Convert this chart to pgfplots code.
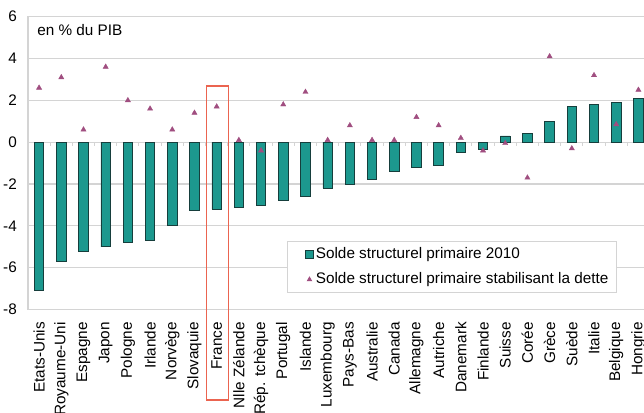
\documentclass[border=0pt]{standalone}
\usepackage{pgfplots}
\pgfplotsset{compat=1.18}
\usepackage{fontspec}
\setmainfont{Liberation Sans}
\definecolor{barteal}{RGB}{28,152,142}
\definecolor{baredge}{RGB}{22,62,60}
\definecolor{trimauve}{RGB}{160,78,128}
\definecolor{rectred}{RGB}{235,100,80}
\definecolor{gridgray}{RGB}{212,212,212}
\pgfplotstableread{
idx bar tri
0 -7.1 2.6
1 -5.7 3.1
2 -5.2 0.6
3 -5.0 3.6
4 -4.8 2.0
5 -4.7 1.6
6 -4.0 0.6
7 -3.25 1.4
8 -3.2 1.7
9 -3.1 0.1
10 -3.0 -0.4
11 -2.8 1.8
12 -2.6 2.4
13 -2.2 0.1
14 -2.0 0.8
15 -1.8 0.1
16 -1.4 0.1
17 -1.2 1.2
18 -1.1 0.8
19 -0.5 0.2
20 -0.35 -0.4
21 0.3 -0.05
22 0.4 -1.7
23 1.0 4.1
24 1.7 -0.3
25 1.8 3.2
26 1.9 0.85
27 2.1 2.5
}\datatable
\begin{document}
\begin{tikzpicture}[font=\fontsize{15.3}{18}\selectfont]
\useasboundingbox (0pt,0pt) rectangle (644pt,412pt);
\begin{axis}[
  at={(28pt,102.5pt)}, anchor=south west,
  width=621.5pt, height=292.8pt, scale only axis,
  xmin=-0.5, xmax=27.5, ymin=-8, ymax=6,
  ytick={-8,-6,...,6},
  xtick={0,...,27},
  xticklabels={Etats-Unis,Royaume-Uni,Espagne,Japon,Pologne,Irlande,Norvège,Slovaquie,France,Nlle Zélande,Rép. tchèque,Portugal,Islande,Luxembourg,Pays-Bas,Australie,Canada,Allemagne,Autriche,Danemark,Finlande,Suisse,Corée,Grèce,Suède,Italie,Belgique,Hongrie},
  x tick label style={yshift=-12.5pt, rotate=90, anchor=east, inner sep=0pt},
  y tick label style={xshift=-11pt, inner sep=0pt},
  /pgf/number format/assume math mode=true,
  major tick length=0pt,
  ymajorgrids, major grid style={gridgray, line width=1.2pt},
  axis line style={gridgray, line width=1.2pt},
  legend style={at={(0.4167,0.234)}, anchor=north west, draw=gridgray, line width=1pt, fill=white,
    inner xsep=6pt, inner ysep=4pt, row sep=7pt,
    nodes={inner sep=2pt, anchor=west, text height=11pt, text depth=3pt},
    font=\fontsize{15.3}{18}\selectfont},
  legend cell align=left,
]
\pgfplotsinvokeforeach{0.5,1.5,...,26.5}{\draw[gridgray, line width=1pt] (axis cs:#1,0) -- ([yshift=-4pt]axis cs:#1,0);}
\addplot[ybar, bar width=9.5pt, fill=barteal, draw=baredge, line width=0.8pt,
  legend image code/.code={\path[draw=none,fill=none] (0pt,-4pt) rectangle (12pt,4pt); \draw[fill=barteal,draw=baredge,line width=0.8pt] (12pt,-4pt) rectangle (20pt,4pt);}]
  table[x=idx, y=bar]{\datatable};
\addlegendentry{Solde structurel primaire 2010}
\addplot[only marks, mark=triangle*, mark size=3pt, color=trimauve,
  legend image code/.code={\path[draw=none,fill=none] (0pt,-4pt) rectangle (20pt,4pt); \draw[mark size=2.2pt] plot coordinates {(16pt,0pt)};}]
  table[x=idx, y=tri]{\datatable};
\addlegendentry{Solde structurel primaire stabilisant la dette}
\node[anchor=base west, inner sep=0pt] at (axis cs:-0.09,5.09) {en \% du PIB};
\coordinate (rA) at (axis cs:7.555,2.69);
\coordinate (rB) at (axis cs:8.53,-12.33);
\end{axis}
\draw[rectred, line width=1.3pt] (rA) rectangle (rB);
\end{tikzpicture}
\end{document}
